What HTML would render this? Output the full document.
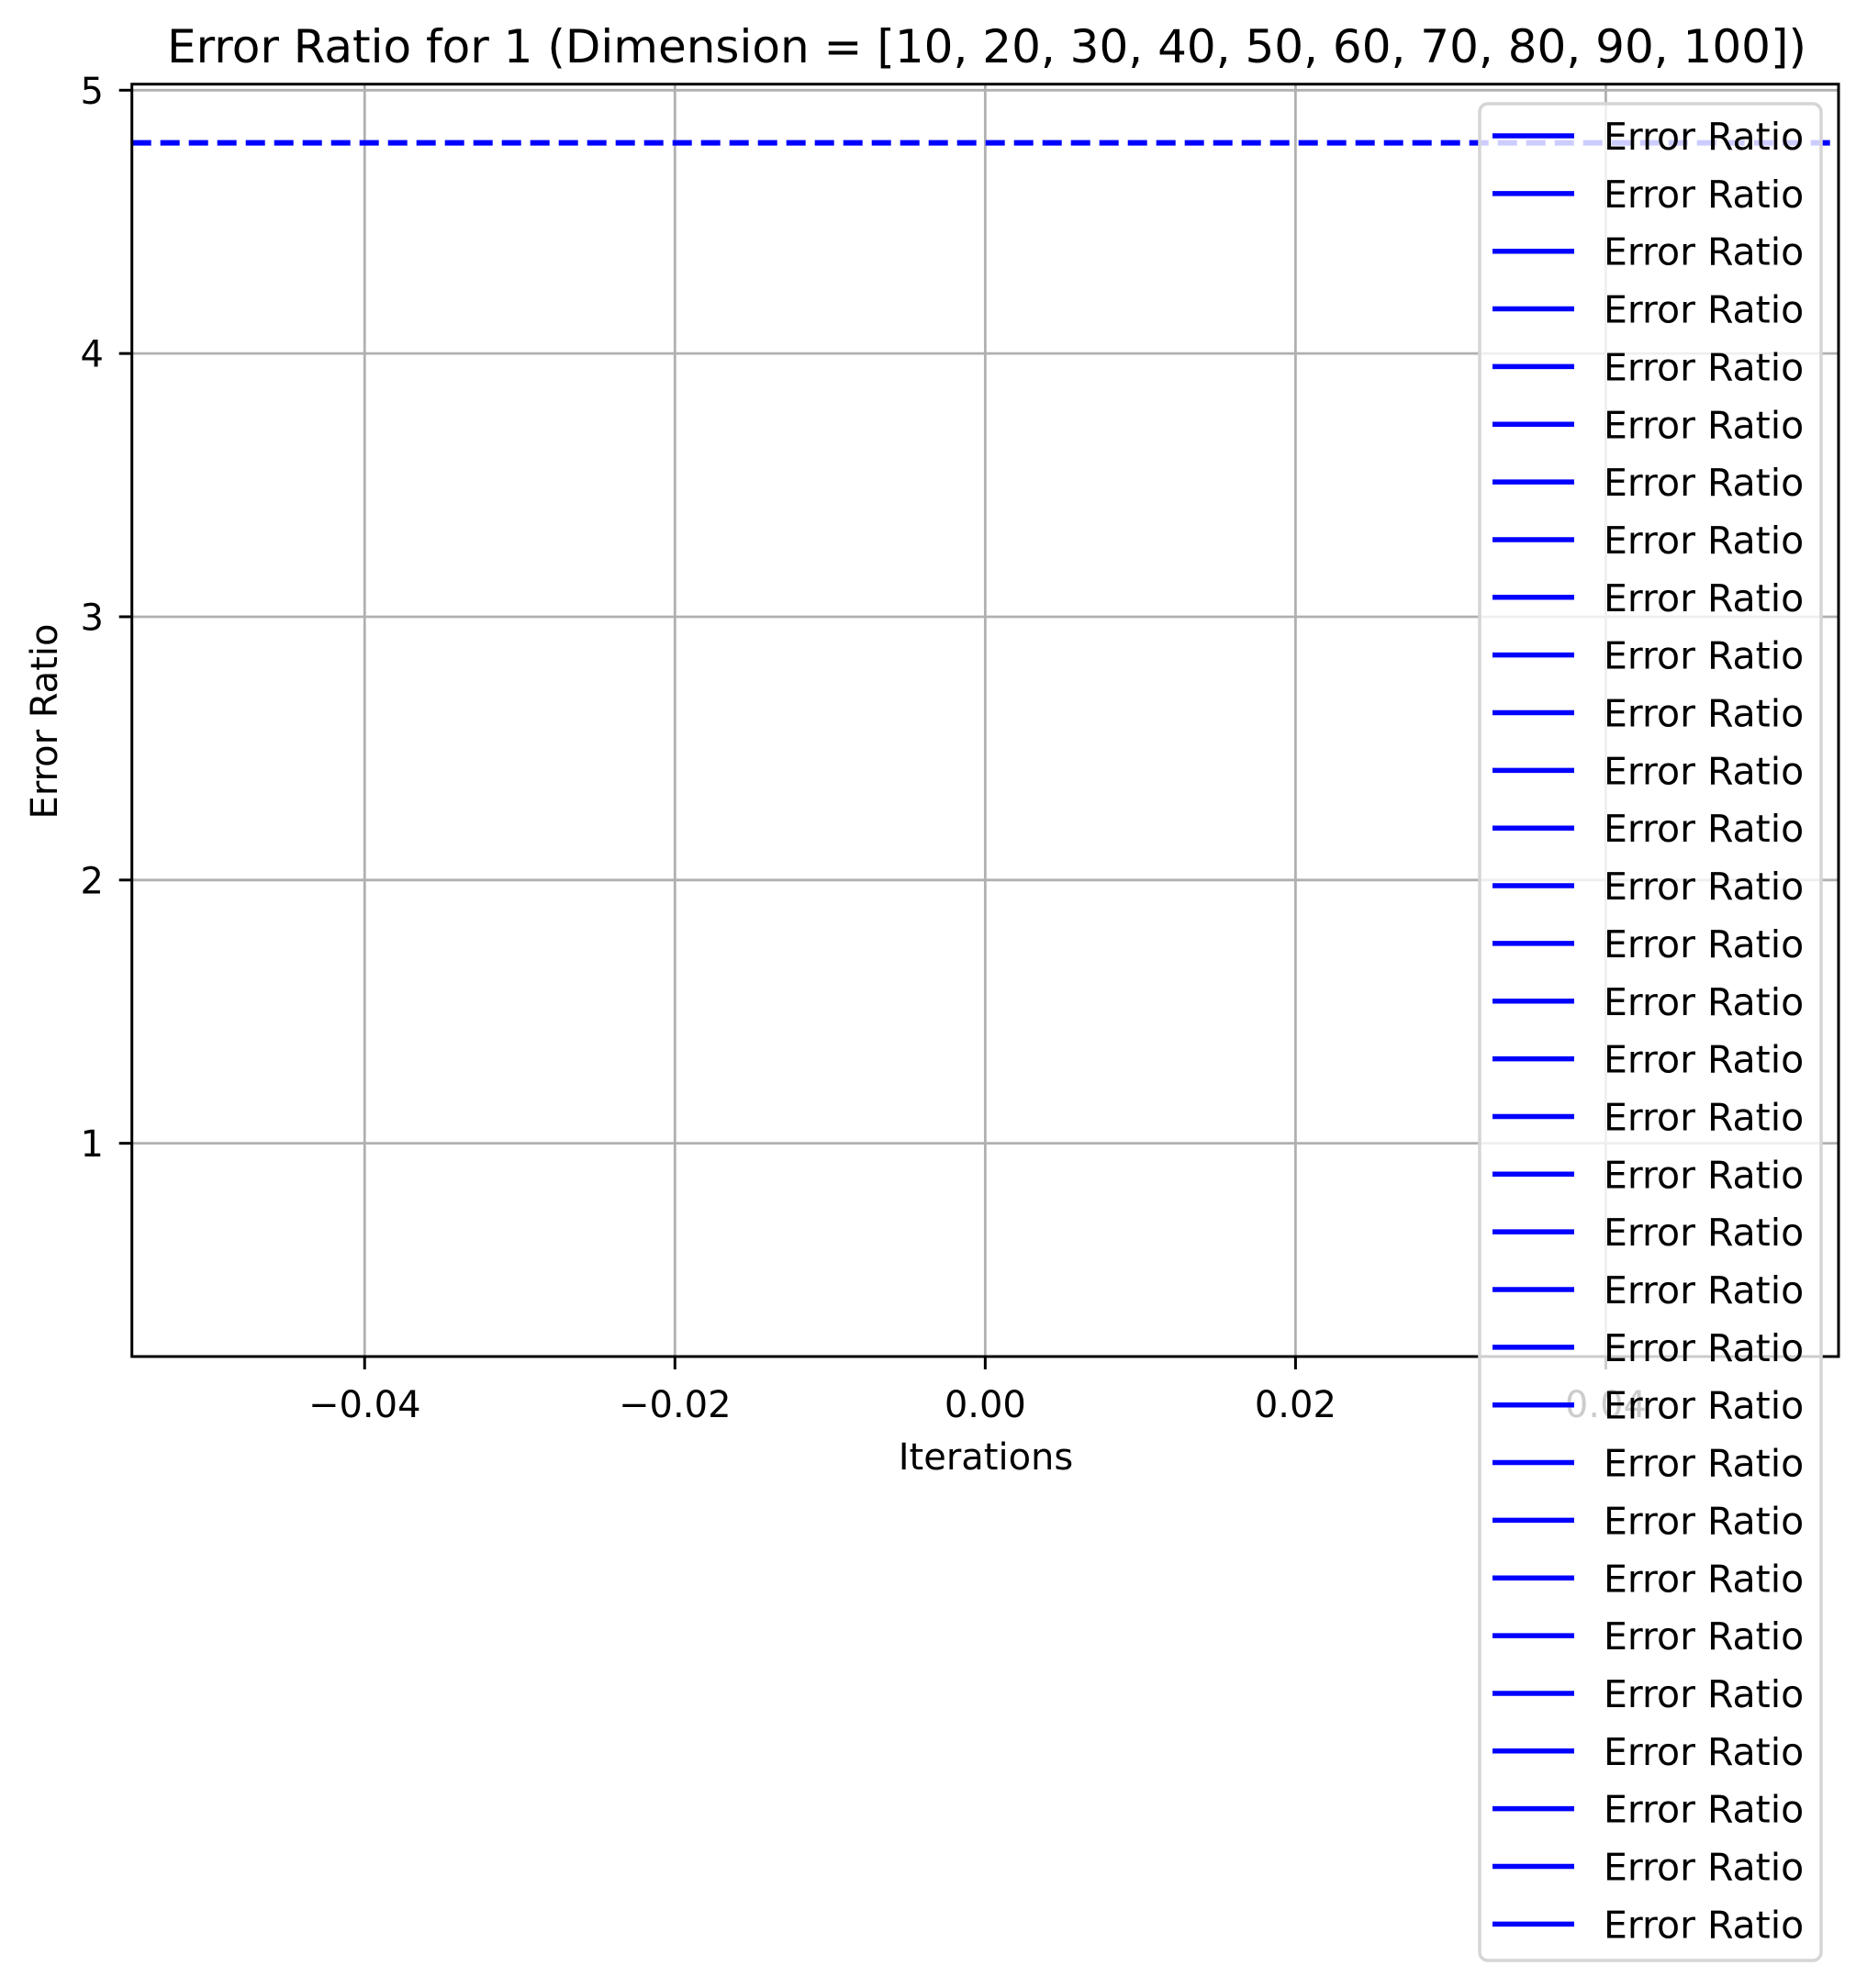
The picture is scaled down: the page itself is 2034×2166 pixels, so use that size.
<!DOCTYPE html>
<html><head><meta charset="utf-8"><style>
html,body{margin:0;padding:0;background:#fff;}
svg{display:block;font-family:"DejaVu Sans","Liberation Sans",sans-serif;}
</style></head><body>
<svg id="chart" width="2034" height="2166" viewBox="0 0 2034 2166" xmlns="http://www.w3.org/2000/svg">
<rect width="2034" height="2166" fill="#fff"/>
<g id="grid"></g>
<g id="series"></g>
<g id="axes"></g>
<g id="legend"></g>
</svg>
<script>
const xTicks = [-0.04, -0.02, 0.00, 0.02, 0.04];
const xTickLabels = ["\u22120.04", "\u22120.02", "0.00", "0.02", "0.04"];
const yTicks = [1, 2, 3, 4, 5];
const yTickLabels = ["1", "2", "3", "4", "5"];
const seriesValue = [4.8];
const legendLabels = Array(32).fill("Error Ratio");
const xDomain = [-0.055, 0.055];
const yDomain = [0.19, 5.023];

const L=143.7, R=2003, T=91.7, B=1478;
const NS="http://www.w3.org/2000/svg";
function sx(v){return L+(v-xDomain[0])/(xDomain[1]-xDomain[0])*(R-L);}
function sy(v){return B-(v-yDomain[0])/(yDomain[1]-yDomain[0])*(B-T);}
function mk(tag,attrs,parent,text){const e=document.createElementNS(NS,tag);for(const k in attrs)e.setAttribute(k,attrs[k]);if(text!==undefined)e.textContent=text;parent.appendChild(e);return e;}
const grid=document.getElementById('grid'),series=document.getElementById('series'),axes=document.getElementById('axes'),legend=document.getElementById('legend');

xTicks.forEach((v,i)=>{
  const g=mk('line',{x1:sx(v),x2:sx(v),y1:T,y2:B,stroke:'#b0b0b0','stroke-width':2.8},grid);
  
  
  const t=mk('line',{x1:sx(v),x2:sx(v),y1:B,y2:B+14,stroke:'#000','stroke-width':3},axes);
  
  
  const lb=mk('text',{x:sx(v),y:1544,'font-size':40,'text-anchor':'middle',fill:'#000'},axes,xTickLabels[i]);
  
  
});
yTicks.forEach((v,i)=>{
  const g=mk('line',{x1:L,x2:R,y1:sy(v),y2:sy(v),stroke:'#b0b0b0','stroke-width':2.8},grid);
  
  
  const t=mk('line',{x1:L-14,x2:L,y1:sy(v),y2:sy(v),stroke:'#000','stroke-width':3},axes);
  
  
  const lb=mk('text',{x:113,y:sy(v)+14.5,'font-size':40,'text-anchor':'end',fill:'#000'},axes,yTickLabels[i]);
  
  
});
seriesValue.forEach(v=>{
  const ln=mk('line',{x1:L,x2:R,y1:sy(v),y2:sy(v),stroke:'#0000ff','stroke-width':6,'stroke-dasharray':'21 10'},series);
  
  
});
const frame=mk('rect',{x:L,y:T,width:R-L,height:B-T,fill:'none',stroke:'#000','stroke-width':3},axes);


const title=mk('text',{x:1075,y:68,'font-size':50,'text-anchor':'middle',fill:'#000'},axes,"Error Ratio for 1 (Dimension = [10, 20, 30, 40, 50, 60, 70, 80, 90, 100])");


const xl=mk('text',{x:1074,y:1601,'font-size':40,'text-anchor':'middle',fill:'#000'},axes,"Iterations");


const yl=mk('text',{x:0,y:0,'font-size':40,'text-anchor':'middle',fill:'#000',transform:'translate(62,786) rotate(-90)'},axes,"Error Ratio");



const box=mk('rect',{x:1612,y:113,width:372,height:2023,rx:9,fill:'rgba(255,255,255,0.8)',stroke:'#d5d5d5','stroke-width':3.5},legend);


legendLabels.forEach((lab,i)=>{
  const y=148+i*62.85;
  const h=mk('line',{x1:1626,x2:1715,y1:y,y2:y,stroke:'#0000ff','stroke-width':5.5},legend);
  
  
  const t=mk('text',{x:1747,y:y+15,'font-size':41,fill:'#000'},legend,lab);
  
  
});
</script>
</body></html>
